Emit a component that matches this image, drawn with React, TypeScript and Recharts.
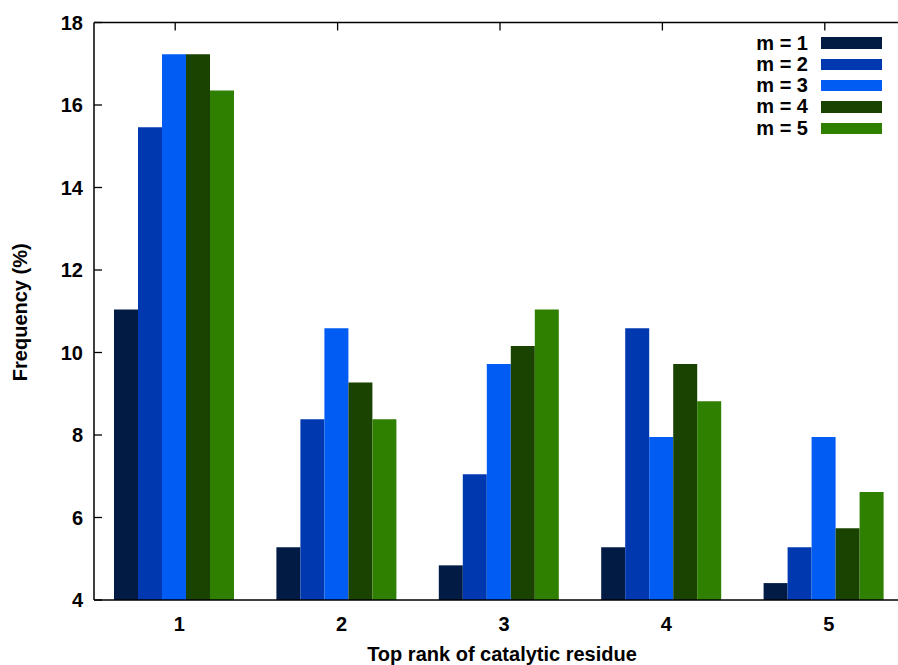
import { BarChart, Bar, XAxis, YAxis, Legend } from 'recharts';

const ranks = ['1', '2', '3', '4', '5'];
const m1 = [11.04, 5.28, 4.84, 5.28, 4.41];
const m2 = [15.46, 8.38, 7.05, 10.59, 5.28];
const m3 = [17.23, 10.59, 9.72, 7.95, 7.95];
const m4 = [17.23, 9.27, 10.16, 9.72, 5.74];
const m5 = [16.35, 8.38, 11.04, 8.82, 6.62];
const yTicks = [4, 6, 8, 10, 12, 14, 16, 18];

const series = [
  { key: 'm1', label: 'm = 1', color: '#011b45', values: m1 },
  { key: 'm2', label: 'm = 2', color: '#0038b0', values: m2 },
  { key: 'm3', label: 'm = 3', color: '#005cf2', values: m3 },
  { key: 'm4', label: 'm = 4', color: '#1a4200', values: m4 },
  { key: 'm5', label: 'm = 5', color: '#2f7f00', values: m5 },
];

const data = ranks.map((rank, i) => {
  const row: Record<string, string | number> = { rank };
  series.forEach((s) => { row[s.key] = s.values[i]; });
  return row;
});

const FONT = '"Liberation Sans", Arial, sans-serif';

function LeftTick({ x, y, payload }: any) {
  return (
    <g>
      <line x1={x + 11} x2={x + 19} y1={y} y2={y} stroke="#000" strokeWidth={1.3} />
      <text x={x} y={y} dy="0.355em" textAnchor="end" fontFamily={FONT} fontWeight="bold" fontSize={20} fill="#000">
        {payload.value}
      </text>
    </g>
  );
}

function RightTick({ x, y }: any) {
  return <line x1={x - 8} x2={x} y1={y} y2={y} stroke="#000" strokeWidth={1.3} />;
}

function TopTick({ x, y }: any) {
  return <line x1={x} x2={x} y1={y} y2={y + 8} stroke="#000" strokeWidth={1.3} />;
}

function BottomTick({ x, y, payload }: any) {
  return (
    <text x={x + 4} y={y} dy="0.71em" textAnchor="middle" fontFamily={FONT} fontWeight="bold" fontSize={20} fill="#000">
      {payload.value}
    </text>
  );
}

function XTitle({ viewBox }: any) {
  return (
    <text x={viewBox.x + viewBox.width / 2 + 2} y={661} textAnchor="middle" fontFamily={FONT} fontWeight="bold" fontSize={20} fill="#000">
      Top rank of catalytic residue
    </text>
  );
}

function YTitle({ viewBox }: any) {
  const cx = 26.5;
  const cy = viewBox.y + viewBox.height / 2 + 1;
  return (
    <text x={cx} y={cy} transform={`rotate(-90, ${cx}, ${cy})`} textAnchor="middle" fontFamily={FONT} fontWeight="bold" fontSize={20} fill="#000">
      Frequency (%)
    </text>
  );
}

function LegendBox() {
  return (
    <div style={{ fontFamily: FONT, fontWeight: 'bold', fontSize: 20, color: '#000' }}>
      {series.map((s) => (
        <div key={s.key} style={{ display: 'flex', alignItems: 'center', height: 21.3 }}>
          <span style={{ width: 68, textAlign: 'right', marginRight: 13, whiteSpace: 'nowrap' }}>{s.label}</span>
          <span style={{ width: 61, height: 11.4, background: s.color, display: 'inline-block' }} />
        </div>
      ))}
    </div>
  );
}

export default function App() {
  return (
    <div style={{ position: 'absolute', left: 0, top: 0, width: 898, height: 665, overflow: 'hidden', background: '#fff' }}>
      <BarChart
        width={920}
        height={665}
        data={data}
        margin={{ top: 20.5, right: 0, left: 34, bottom: 0 }}
        barCategoryGap={20}
        barGap={0}
      >
        <XAxis
          dataKey="rank"
          height={65}
          axisLine={{ stroke: '#000', strokeWidth: 1.5 }}
          tickLine={false}
          tickSize={0}
          tickMargin={17}
          tick={<BottomTick />}
          label={<XTitle />}
        />
        <XAxis
          xAxisId="top"
          dataKey="rank"
          orientation="top"
          height={2}
          axisLine={{ stroke: '#000', strokeWidth: 1.5 }}
          tickLine={false}
          tickSize={0}
          tickMargin={0}
          tick={<TopTick />}
        />
        <YAxis
          width={60}
          domain={[4, 18]}
          ticks={yTicks}
          allowDataOverflow
          axisLine={{ stroke: '#000', strokeWidth: 1.5 }}
          tickLine={false}
          tickSize={0}
          tickMargin={11}
          tick={<LeftTick />}
          label={<YTitle />}
        />
        <YAxis
          yAxisId="right"
          orientation="right"
          width={14}
          domain={[4, 18]}
          ticks={yTicks}
          allowDataOverflow
          axisLine={{ stroke: '#000', strokeWidth: 1.5 }}
          tickLine={false}
          tickSize={0}
          tickMargin={0}
          tick={<RightTick />}
        />
        <Legend
          layout="vertical"
          align="center"
          verticalAlign="middle"
          wrapperStyle={{ top: 32.4, left: 740, width: 150 }}
          content={<LegendBox />}
        />
        {series.map((s) => (
          <Bar key={s.key} dataKey={s.key} name={s.label} fill={s.color} isAnimationActive={false} />
        ))}
      </BarChart>
    </div>
  );
}
